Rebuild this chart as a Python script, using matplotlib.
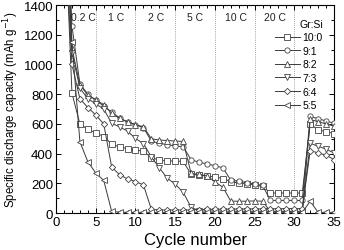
import matplotlib
matplotlib.use("Agg")
import matplotlib.pyplot as plt
from matplotlib.ticker import MultipleLocator

plt.rcParams['font.family'] = ['Liberation Sans', 'DejaVu Sans']

cycles = list(range(1, 36))
labels = ["10:0", "9:1", "8:2", "7:3", "6:4", "5:5"]
markers = ["s", "o", "^", "v", "D", "<"]

s10_0 = [2100, 807, 600, 563, 540, 515, 465, 445, 434, 423, 418, 372, 358, 352, 350, 348,
         262, 255, 250, 244, 232, 212, 202, 196, 190, 180, 135, 135, 135, 135, 135,
         600, 560, 548, 535]
s9_1 = [2400, 1260, 870, 800, 760, 720, 680, 640, 612, 595, 575, 485, 470, 460, 452, 447,
        360, 342, 332, 318, 305, 222, 214, 205, 196, 186, 85, 85, 85, 85, 85,
        650, 635, 620, 605]
s8_2 = [2300, 1110, 860, 795, 762, 730, 671, 637, 615, 595, 581, 500, 492, 488, 485, 482,
        268, 260, 252, 210, 175, 80, 80, 80, 82, 80, 10, 8, 8, 8, 8,
        630, 615, 600, 585]
s7_3 = [2200, 1080, 840, 770, 735, 700, 605, 580, 552, 502, 468, 378, 305, 235, 195, 140,
        40, 15, 14, 14, 13, 13, 12, 12, 12, 12, 12, 12, 12, 12, 12,
        470, 450, 430, 405]
s6_4 = [2000, 1000, 770, 710, 660, 600, 310, 258, 230, 212, 190, 25, 22, 20, 22, 20,
        22, 24, 25, 25, 26, 27, 27, 28, 28, 28, 29, 29, 30, 30, 30,
        420, 405, 390, 360]
s5_5 = [2500, 1150, 480, 345, 270, 220, 12, 6, 5, 5, 5, 5, 5, 5, 5, 5,
        5, 5, 5, 5, 5, 5, 5, 5, 5, 5, 5, 5, 5, 5, 5,
        80, 5, 5, 5]
series = [s10_0, s9_1, s8_2, s7_3, s6_4, s5_5]

rate_labels = ["0.2 C", "1 C", "2 C", "5 C", "10 C", "20 C"]
rate_pos = [3.4, 7.6, 12.6, 17.5, 22.7, 27.6]
boundaries = [5, 10, 15, 20, 25, 30]

fig = plt.figure(figsize=(3.44, 2.51), dpi=100)
ax = fig.add_axes([0.163, 0.147, 0.808, 0.829])

for b in boundaries:
    ax.axvline(b, color='#888888', ls=(0, (1, 1.5)), lw=0.6, zorder=1)

for vals, lab, m in zip(series, labels, markers):
    ms = 3.8 if m != 'D' else 3.2
    ax.plot(cycles, vals, color='#3a3a3a', lw=0.7, marker=m, ms=ms,
            mfc='white', mec='#444444', mew=0.6, label=lab, zorder=3, clip_on=True)

for t, xp in zip(rate_labels, rate_pos):
    ax.text(xp, 1320, t, ha='center', va='center', fontsize=7.5, color='#222222', zorder=5)

ax.set_xlim(0, 35)
ax.set_ylim(0, 1400)
ax.xaxis.set_major_locator(MultipleLocator(5))
ax.xaxis.set_minor_locator(MultipleLocator(1))
ax.yaxis.set_major_locator(MultipleLocator(200))
ax.yaxis.set_minor_locator(MultipleLocator(100))
ax.tick_params(which='both', direction='in', top=True, right=True, labelsize=9.5, width=0.7)
ax.tick_params(which='major', length=3.5, pad=2)
ax.tick_params(which='minor', length=2)
for sp in ax.spines.values():
    sp.set_linewidth(0.8)

ax.set_xlabel("Cycle number", fontsize=12, labelpad=3)
ax.set_ylabel("Specific discharge capacity (mAh g$^{-1}$)", fontsize=8.3, labelpad=2)

leg = ax.legend(title="Gr:Si", loc='upper right', bbox_to_anchor=(0.975, 0.955),
                frameon=False, fontsize=7.5, title_fontsize=7.5, handlelength=2.4,
                handletextpad=0.3, labelspacing=0.35, borderaxespad=0, alignment='right')

fig.savefig("out.png", dpi=100)
